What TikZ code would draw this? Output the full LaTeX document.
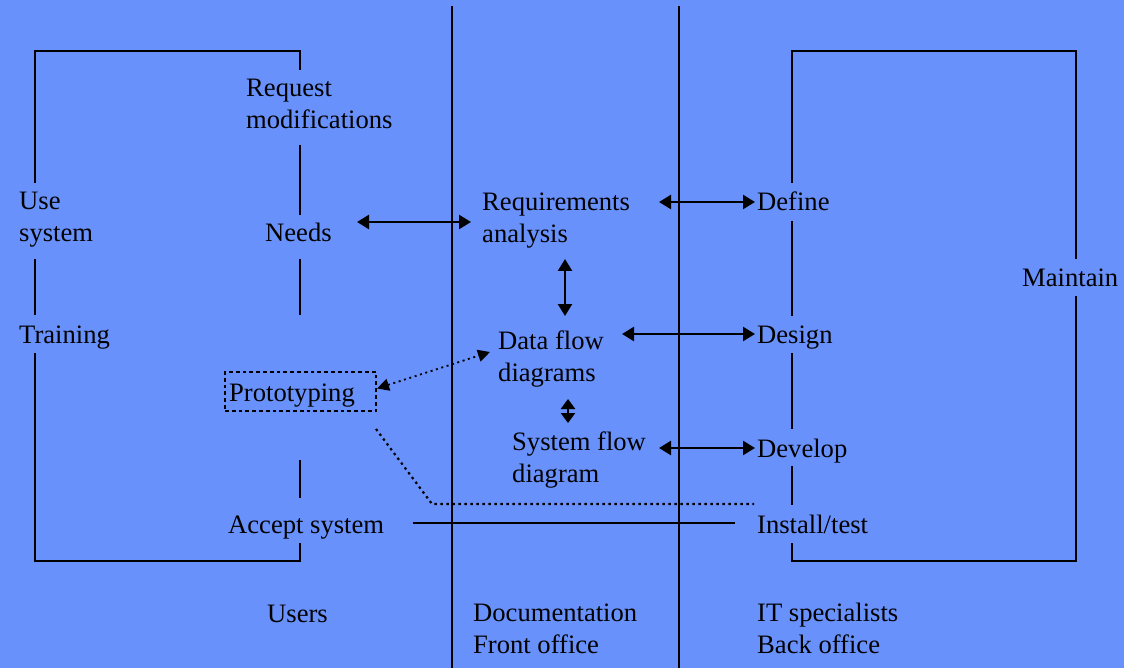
\documentclass[tikz,border=0pt]{standalone}
\usepackage{fontspec}
\setmainfont{Liberation Serif}
\usetikzlibrary{arrows.meta}
\definecolor{slide}{RGB}{104,145,252}
\begin{document}
\begin{tikzpicture}[x=1pt,y=-1pt,
  % two-line labels are placed by the baseline of their last line
  lbl/.style={anchor=base west,inner sep=0pt,align=left,
    font=\fontsize{26.6pt}{32pt}\selectfont},
  frame/.style={line width=1.1pt,black},
  dbl/.style={line width=2.4pt,{Triangle[length=12pt,width=14pt]}-{Triangle[length=12pt,width=14pt]}},
  dotarrow/.style={line width=1.8pt,dash pattern=on 2pt off 3.6pt,
    {Triangle[length=12pt,width=12pt]}-{Triangle[length=12pt,width=12pt]}},
  dotline/.style={line width=2.2pt,dash pattern=on 2.4pt off 3.6pt},
  protobox/.style={draw,line width=2pt,dash pattern=on 3.8pt off 3pt,inner sep=0pt}]
  % slide background
  \fill[slide] (0,0) rectangle (1124,668);
  \useasboundingbox (0,0) rectangle (1124,668);

  % column dividers
  \draw[frame] (452,6) -- (452,668);
  \draw[frame] (679,6) -- (679,668);

  % users' cycle
  \node[lbl] (request)  at (246,129) {Request\\modifications};
  \node[lbl] (use)      at (19,242)  {Use\\system};
  \node[lbl] (needs)    at (265,242) {Needs};
  \node[lbl] (training) at (19,343)  {Training};
  \node[protobox,minimum width=151pt,minimum height=39pt] (proto) at (300.5,391.5) {};
  \node[lbl] (prototext) at (229,401) {Prototyping};
  \node[lbl] (accept)   at (228,533) {Accept system};

  % documentation column
  \node[lbl] (reqan) at (482,243) {Requirements\\analysis};
  \node[lbl] (dfd)   at (498,381) {Data flow\\diagrams};
  \node[lbl] (sfd)   at (512,482) {System flow\\diagram};

  % IT specialists' cycle
  \node[lbl] (define)   at (757,211)  {Define};
  \node[lbl] (design)   at (757,343)  {Design};
  \node[lbl] (develop)  at (757,457)  {Develop};
  \node[lbl] (install)  at (757,533)  {Install/test};
  \node[lbl] (maintain) at (1022,287) {Maintain};

  % column headings
  \node[lbl] (users) at (267,622) {Users};
  \node[lbl] (doc)   at (473,653) {Documentation\\Front office};
  \node[lbl] (it)    at (757,653) {IT specialists\\Back office};

  % left frame
  \draw[frame] (35,183) -- (35,51) -- (300,51) -- (300,70);
  \draw[frame] (300,145) -- (300,215);
  \draw[frame] (35,259) -- (35,315);
  \draw[frame] (300,259) -- (300,315);
  \draw[frame] (300,460) -- (300,498);
  \draw[frame] (35,353) -- (35,561) -- (300,561) -- (300,543);

  % right frame
  \draw[frame] (792,183) -- (792,51) -- (1076,51) -- (1076,259);
  \draw[frame] (792,221) -- (792,316);
  \draw[frame] (792,353) -- (792,429);
  \draw[frame] (792,466) -- (792,505);
  \draw[frame] (792,543) -- (792,561) -- (1076,561) -- (1076,296);

  % hand-over line
  \coordinate (acceptR)  at (413,523);
  \coordinate (installL) at (735,523);
  \draw[frame] (acceptR) -- (installL);

  % two-way arrows
  \coordinate (needsR)   at (357,222);
  \coordinate (reqanL)   at (471,222);
  \coordinate (reqanR)   at (659,202);
  \coordinate (defineL)  at (755,202);
  \coordinate (reqanB)   at (565,259);
  \coordinate (dfdT)     at (565,316);
  \coordinate (dfdR)     at (622,334);
  \coordinate (designL)  at (755,334);
  \coordinate (dfdB)     at (568,399);
  \coordinate (sfdT)     at (568,423);
  \coordinate (sfdR)     at (659,448);
  \coordinate (developL) at (755,448);
  \draw[dbl] (needsR) -- (reqanL);
  \draw[dbl] (reqanR) -- (defineL);
  \draw[dbl] (reqanB) -- (dfdT);
  \draw[dbl] (dfdR) -- (designL);
  \draw[line width=2.4pt,{Triangle[length=10pt,width=14pt]}-{Triangle[length=10pt,width=14pt]}] (dfdB) -- (sfdT);
  \draw[dbl] (sfdR) -- (developL);

  % prototyping links
  \coordinate (dfdL) at (490,352);
  \draw[dotarrow] (proto.east) ++(0,-3) coordinate (protoR) (protoR) -- (dfdL);
  \coordinate (protoLow) at (376,429);
  \coordinate (bend)     at (432,504);
  \coordinate (devEnd)   at (754,504);
  \draw[dotline] (protoLow) -- (bend) -- (devEnd);
\end{tikzpicture}
\end{document}
